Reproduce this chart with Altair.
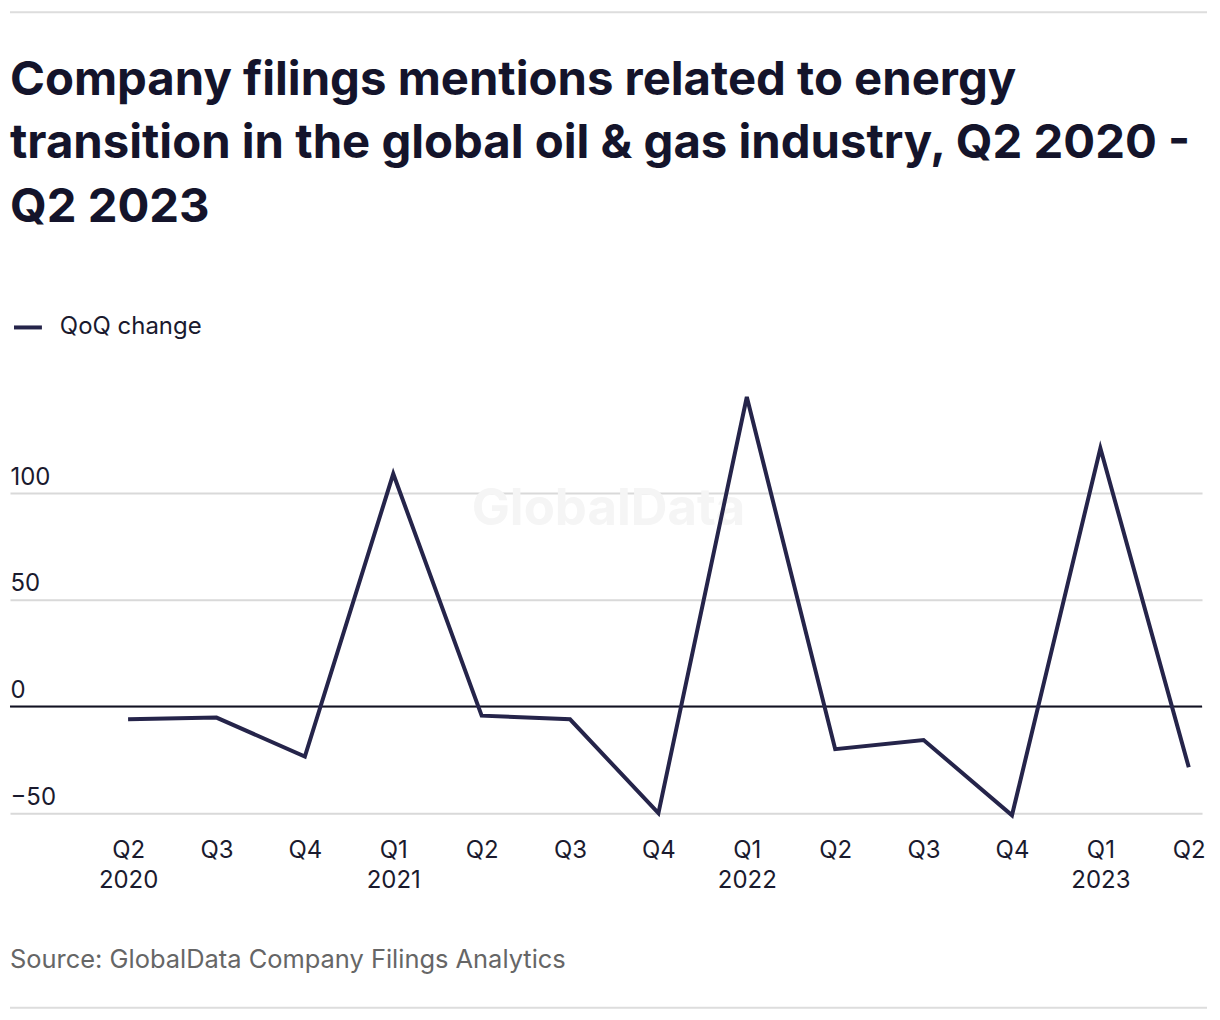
import json
import altair as alt
import pandas as pd

quarters = ["Q2", "Q3", "Q4", "Q1", "Q2", "Q3", "Q4", "Q1", "Q2", "Q3", "Q4", "Q1", "Q2"]
years = ["2020", "", "", "2021", "", "", "", "2022", "", "", "", "2023", ""]
qoq_change = [-6, -5.2, -23.5, 109, -4.3, -6, -50, 145, -20, -15.7, -51, 121, -28.5]
y_ticks = [-50, 0, 50, 100]

series_name = "QoQ change"
title_lines = [
    "Company filings mentions related to energy",
    "transition in the global oil & gas industry, Q2 2020 -",
    "Q2 2023",
]
source_text = "Source: GlobalData Company Filings Analytics"

df = pd.DataFrame({
    "idx": list(range(len(qoq_change))),
    "value": qoq_change,
    "series": [series_name] * len(qoq_change),
})

labels = [q + ("|" + y if y else "") for q, y in zip(quarters, years)]
label_expr = "split(" + json.dumps(labels) + "[datum.value], '|')"

W, H = 1195, 450
LINE = "#25244a"
TEXT = "#1a1a2e"
FONT = "Inter"

x_scale = alt.Scale(domain=[-1.336, 12.15], nice=False, zero=False)
y_scale = alt.Scale(domain=[-57.5, 152.8], nice=False, zero=False)

line = alt.Chart(df).mark_line(strokeWidth=4, strokeJoin="miter").encode(
    x=alt.X("idx:Q", scale=x_scale,
            axis=alt.Axis(values=list(range(len(qoq_change))), labelExpr=label_expr,
                          title=None, grid=False, domain=False, ticks=False,
                          labelPadding=9, labelFontSize=24, labelLineHeight=30,
                          labelColor=TEXT, labelFont=FONT, labelOverlap=False,
                          labelFlush=False, labelBaseline="top")),
    y=alt.Y("value:Q", scale=y_scale,
            axis=alt.Axis(values=y_ticks, title=None, domain=False, ticks=False,
                          labelAlign="left", labelPadding=0, labelBaseline="alphabetic",
                          labelOffset=-9, labelFontSize=24, labelColor=TEXT, labelFont=FONT,
                          gridColor="#d9d9d9", gridWidth=2)),
    color=alt.Color("series:N", scale=alt.Scale(range=[LINE]),
                    legend=alt.Legend(title=None, orient="none", legendX=2, legendY=-69,
                                      symbolType="stroke", symbolSize=784,
                                      symbolStrokeWidth=4, labelFontSize=24,
                                      labelColor=TEXT, labelFont=FONT, labelOffset=16)),
)

zero = alt.Chart(pd.DataFrame({"z": [0]})).mark_rule(color="#111122", strokeWidth=2).encode(
    y=alt.Y("z:Q", scale=y_scale)
)

watermark = alt.Chart(pd.DataFrame({"t": ["GlobalData"]})).mark_text(
    fontSize=51, fontWeight="bold", color="#f5f5f5", font=FONT, align="center",
    baseline="middle"
).encode(text="t:N", x=alt.value(600), y=alt.value(130))

source = alt.Chart(pd.DataFrame({"t": [source_text]})).mark_text(
    fontSize=25.5, color="#666666", font=FONT, align="left", baseline="middle"
).encode(text="t:N", x=alt.value(0), y=alt.value(581))

top_rule = alt.Chart(pd.DataFrame({"a": [0]})).mark_rule(color="#dddddd", strokeWidth=2).encode(
    x=alt.value(0), x2=alt.value(1200), y=alt.value(-369)
)
bottom_rule = alt.Chart(pd.DataFrame({"a": [0]})).mark_rule(color="#dddddd", strokeWidth=2).encode(
    x=alt.value(0), x2=alt.value(1200), y=alt.value(629)
)

chart = alt.layer(watermark, zero, line, source, top_rule, bottom_rule).properties(
    width=W, height=H,
    autosize=alt.AutoSizeParams(type="none"),
    padding={"left": 2, "top": 372, "right": 10, "bottom": 180},
    title=alt.TitleParams(text=title_lines, anchor="start", frame="group",
                          fontSize=47.4, lineHeight=64, font=FONT, fontWeight=700,
                          color="#14142b", offset=-222),
).configure(background="white").configure_view(stroke=None)

chart.save("out.html", embed_options={"renderer": "svg", "actions": False})
